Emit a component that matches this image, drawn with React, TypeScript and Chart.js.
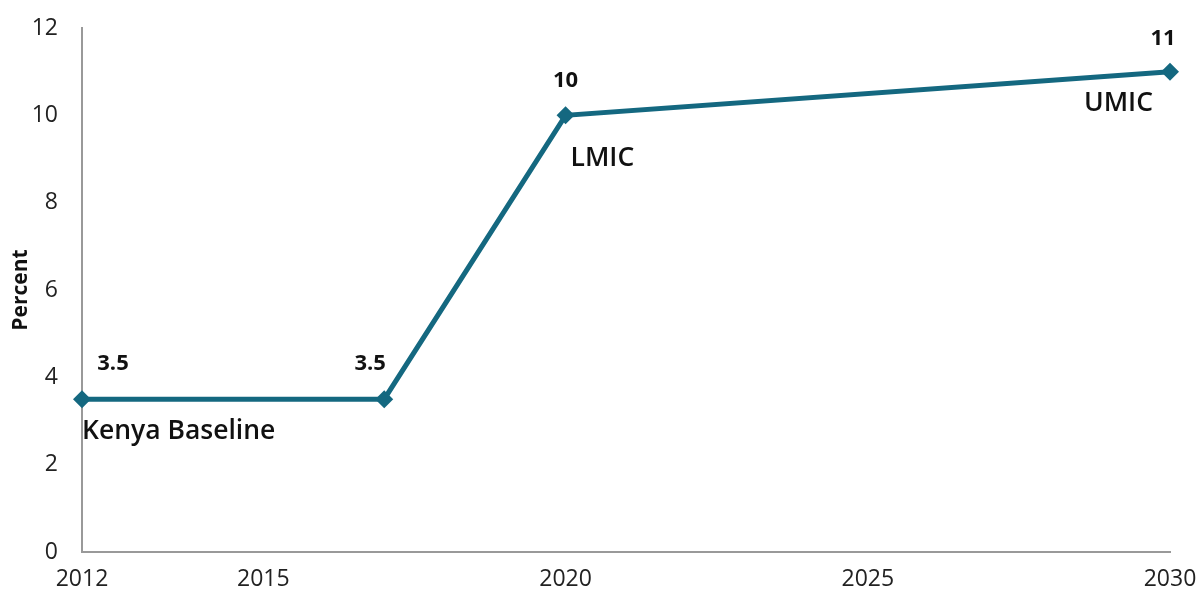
import React, { useEffect, useRef } from "react";
import { Chart, registerables } from "chart.js";

Chart.register(...registerables);

const years = [2012, 2017, 2020, 2030];
const percent = [3.5, 3.5, 10, 11];
const xTickValues = [2012, 2015, 2020, 2025, 2030];
const valueLabels = ["3.5", "3.5", "10", "11"];
const pointNotes = ["Kenya Baseline", "", "LMIC", "UMIC"];

const LINE_COLOR = "#146880";
const FONT = "'Open Sans', 'Noto Sans', sans-serif";

const labelPlugin = {
  id: "pointLabels",
  afterDatasetsDraw(chart: any) {
    const ctx = chart.ctx;
    const meta = chart.getDatasetMeta(0);
    const valOff = [
      [31, -35],
      [-14, -35],
      [0, -35],
      [-7, -33],
    ];
    const noteCfg: any[] = [
      { dx: 0, dy: 32, align: "left" },
      null,
      { dx: 5, dy: 43, align: "left" },
      { dx: -17, dy: 32, align: "right" },
    ];
    ctx.save();
    ctx.fillStyle = "#111";
    ctx.textBaseline = "middle";
    meta.data.forEach((pt: any, i: number) => {
      ctx.font = `bold 22px ${FONT}`;
      ctx.textAlign = "center";
      ctx.fillText(valueLabels[i], pt.x + valOff[i][0], pt.y + valOff[i][1]);
      const n = noteCfg[i];
      if (n && pointNotes[i]) {
        ctx.font = `600 26.5px ${FONT}`;
        ctx.textAlign = n.align;
        ctx.fillText(pointNotes[i], pt.x + n.dx, pt.y + n.dy);
      }
    });
    ctx.restore();
  },
};

export default function App() {
  const ref = useRef<HTMLCanvasElement>(null);
  useEffect(() => {
    document.body.style.margin = "0";
    const chart = new Chart(ref.current!, {
      type: "line",
      data: {
        datasets: [
          {
            data: years.map((x, i) => ({ x, y: percent[i] })),
            borderColor: LINE_COLOR,
            backgroundColor: LINE_COLOR,
            borderWidth: 5,
            pointStyle: "rectRot",
            pointRadius: 9,
            pointBorderWidth: 0,
            tension: 0,
            clip: false,
          },
        ],
      },
      options: {
        animation: false,
        responsive: false,
        maintainAspectRatio: false,
        layout: { padding: { top: 28, right: 30, left: 0, bottom: 0 } },
        plugins: { legend: { display: false }, tooltip: { enabled: false } },
        scales: {
          x: {
            type: "linear",
            min: 2012,
            max: 2030,
            afterBuildTicks: (s: any) => {
              s.ticks = xTickValues.map((v) => ({ value: v }));
            },
            afterFit: (s: any) => {
              s.height = 42;
              s.paddingLeft = 0;
              s.paddingRight = 0;
            },
            grid: { display: false, drawTicks: false },
            border: { display: true, color: "#999", width: 2 },
            ticks: {
              padding: 14,
              color: "#222",
              font: { family: FONT, size: 23 },
              callback: (v: any) => String(v),
              maxRotation: 0,
            },
          },
          y: {
            min: 0,
            max: 12,
            afterFit: (s: any) => {
              s.width = 82;
              s.paddingTop = 0;
              s.paddingBottom = 0;
            },
            grid: { display: false, drawTicks: false },
            border: { display: true, color: "#999", width: 2 },
            ticks: {
              stepSize: 2,
              padding: 24,
              color: "#222",
              font: { family: FONT, size: 23 },
            },
            title: {
              display: true,
              text: "Percent",
              color: "#111",
              font: { family: FONT, size: 21, weight: "bold" },
              padding: { top: 8, bottom: 0 },
            },
          },
        },
      },
      plugins: [labelPlugin],
    } as any);
    return () => chart.destroy();
  }, []);
  return (
    <div style={{ width: 1200, height: 594 }}>
      <canvas ref={ref} width={1200} height={594} />
    </div>
  );
}
